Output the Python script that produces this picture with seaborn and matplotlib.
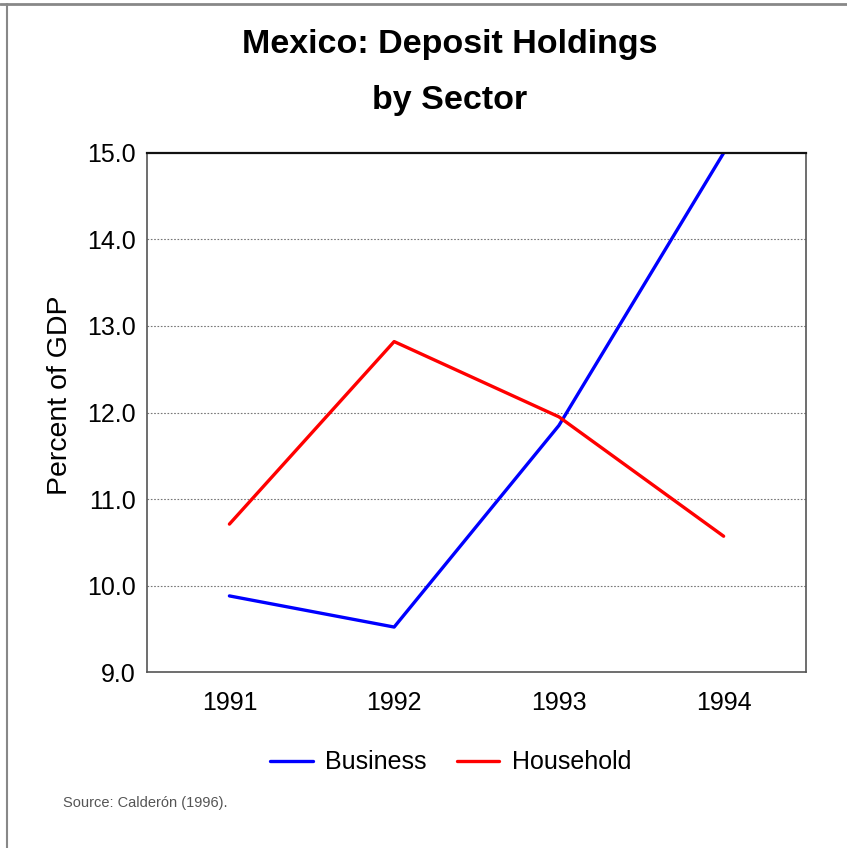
import matplotlib
matplotlib.use("Agg")
import matplotlib.pyplot as plt
from matplotlib.lines import Line2D
import seaborn as sns
import pandas as pd

years = [1991, 1992, 1993, 1994]
business = [9.88, 9.52, 11.85, 15.0]
household = [10.71, 12.82, 11.95, 10.57]
series_names = ["Business", "Household"]
series_colors = ["#0000ff", "#ff0000"]
y_ticks = [9.0, 10.0, 11.0, 12.0, 13.0, 14.0, 15.0]

df = pd.DataFrame({
    "Year": years * 2,
    "Value": business + household,
    "Sector": [series_names[0]] * len(years) + [series_names[1]] * len(years),
})

sns.set_style("white")
plt.rcParams["font.family"] = ["Liberation Sans", "DejaVu Sans"]
plt.rcParams["text.color"] = "black"
plt.rcParams["axes.labelcolor"] = "black"

fig = plt.figure(figsize=(8.47, 8.48), dpi=100)
ax = fig.add_axes([0.1736, 0.2075, 0.9516 - 0.1736, 0.8196 - 0.2075])

sns.lineplot(data=df, x="Year", y="Value", hue="Sector",
             palette=dict(zip(series_names, series_colors)),
             linewidth=2.4, ax=ax, legend=False)

ax.set_xlim(1990.5, 1994.5)
ax.set_ylim(9.0, 15.0)
ax.set_xticks(years)
ax.set_xticklabels([str(y) for y in years])
ax.set_yticks(y_ticks)
ax.set_yticklabels([f"{v:.1f}" for v in y_ticks])
ax.tick_params(axis="both", labelsize=18, labelcolor="black")
ax.tick_params(axis="x", direction="out", length=7, width=0.8, pad=7, color="#555555")
ax.tick_params(axis="y", direction="out", length=4, width=0.8, pad=4, color="#777777")

for v in y_ticks[1:-1]:
    ax.axhline(v, color="#777777", linestyle=(0, (1.5, 1.5)), linewidth=0.8, zorder=0)

for side in ["left", "bottom", "right"]:
    ax.spines[side].set_color("#555555")
    ax.spines[side].set_linewidth(1.2)
ax.spines["top"].set_color("#111111")
ax.spines["top"].set_linewidth(1.6)

ax.set_xlabel("")
ax.set_ylabel("Percent of GDP", fontsize=20.5)
ax.yaxis.set_label_coords(-0.112, 0.534)

fig.text(0.531, 0.937, "Mexico: Deposit Holdings", ha="center", va="baseline",
         fontsize=24.5, fontweight="bold")
fig.text(0.531, 0.871, "by Sector", ha="center", va="baseline",
         fontsize=24.5, fontweight="bold")

handles = [Line2D([0], [0], color=c, linewidth=2.4) for c in series_colors]
fig.legend(handles, series_names, loc="center", bbox_to_anchor=(0.532, 0.101),
           ncol=2, frameon=False, fontsize=18, handlelength=1.7,
           handletextpad=0.5, columnspacing=1.2)

fig.text(0.074, 0.048, "Source: Calderón (1996).", fontsize=10.5, color="#555555",
         ha="left", va="baseline")

# outer frame
fig.add_artist(Line2D([0.0, 1.0], [0.995, 0.995], transform=fig.transFigure,
                      color="#888888", linewidth=2))
fig.add_artist(Line2D([0.0085, 0.0085], [0.0, 0.995], transform=fig.transFigure,
                      color="#888888", linewidth=1.5))

fig.savefig("out.png", dpi=100)
